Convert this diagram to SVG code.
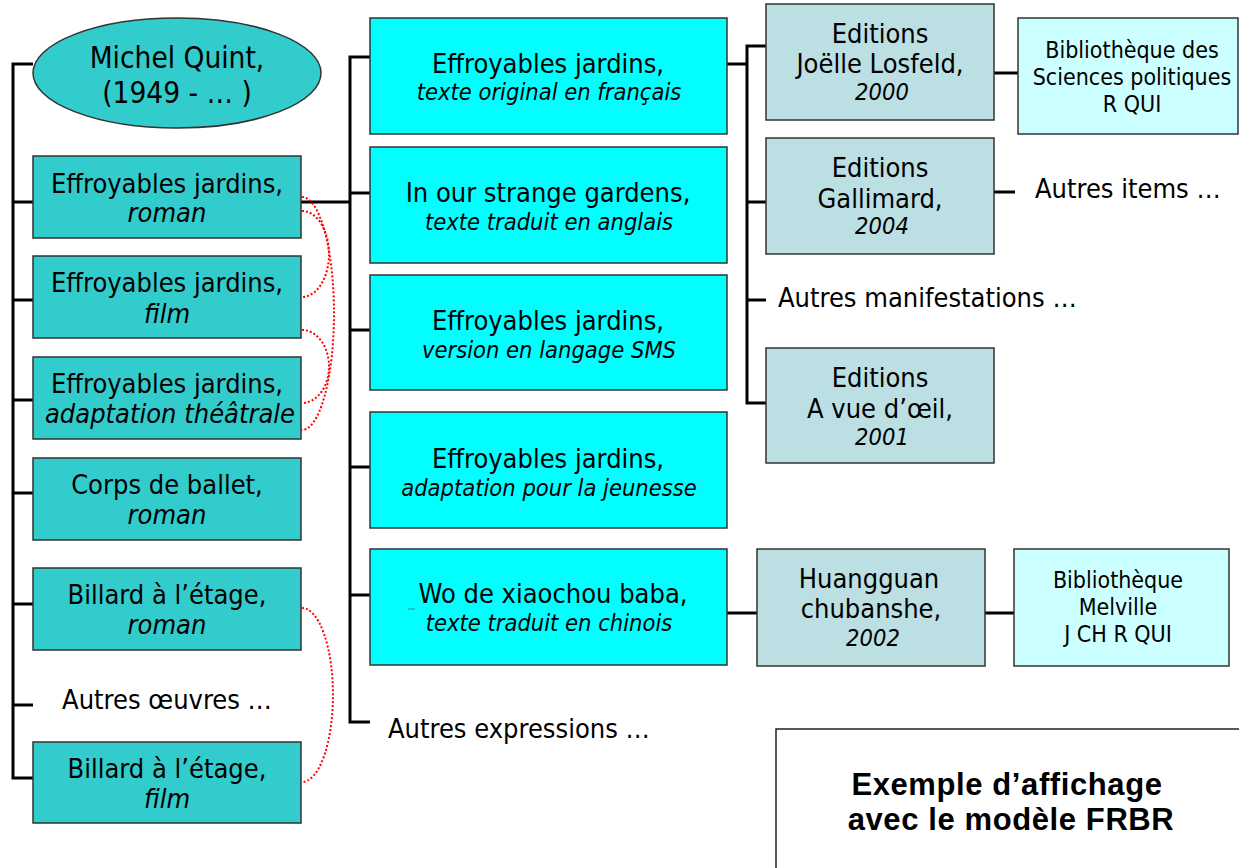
<svg xmlns="http://www.w3.org/2000/svg" width="1239" height="868" viewBox="0 0 1239 868">
<style>
text{font-family:"DejaVu Sans Condensed","DejaVu Sans",sans-serif;font-stretch:condensed;fill:#000;text-anchor:middle}
.t{font-size:27px}
.i{font-style:italic}
.s{font-size:23.5px}
.b{font-size:23px}
.l{text-anchor:start}
.w{fill:#33cccc;stroke:#333;stroke-width:1.5}
.e{fill:#00ffff;stroke:#333;stroke-width:1.5}
.m{fill:#bbdfe2;stroke:#333;stroke-width:1.5}
.it{fill:#ccffff;stroke:#333;stroke-width:1.5}
.c{stroke:#000;stroke-width:3;fill:none}
.r{stroke:#ff0000;stroke-width:2;stroke-dasharray:2 2;fill:none}
.cap{font-family:"Liberation Sans",Arial,sans-serif;font-stretch:normal;font-weight:bold;font-size:31px}
</style>
<g id="connectors">
<path class="c" d="M33 64H13V778H33M13 202H33M13 300H33M13 400H33M13 493H33M13 604H33M13 705H33"/>
<path class="c" d="M301 202H350M370 57H350V722H370M350 193H370M350 330H370M350 467H370M350 595H370"/>
<path class="c" d="M727 64H747M766 46H747V403H766M747 202H766M747 300H766"/>
<path class="c" d="M994 73H1018M994 192H1015M727 613H757M985 613H1014"/>
<path class="r" d="M302 197A32 116.5 0 0 1 302 430"/>
<path class="r" d="M302 211A27 43 0 0 1 302 297"/>
<path class="r" d="M302 330A27 36.5 0 0 1 302 403"/>
<path class="r" d="M302 608A31 87 0 0 1 302 782"/>
</g>
<g id="n-author">
<ellipse cx="177" cy="73" rx="144" ry="55" class="w"/>
<text x="177" y="68" style="font-size:29.5px">Michel Quint,</text>
<text x="177" y="103" style="font-size:29.5px">(1949 - … )</text>
</g>
<g id="n-w1"><rect x="33" y="156" width="268" height="82" class="w"/><text class="t" x="167" y="193">Effroyables jardins,</text><text class="t i" x="167" y="222">roman</text></g>
<g id="n-w2"><rect x="33" y="256" width="268" height="82" class="w"/><text class="t" x="167" y="292">Effroyables jardins,</text><text class="t i" x="167" y="323">film</text></g>
<g id="n-w3"><rect x="33" y="357" width="268" height="82" class="w"/><text class="t" x="167" y="393">Effroyables jardins,</text><text class="t i" x="170" y="423">adaptation théâtrale</text></g>
<g id="n-w4"><rect x="33" y="458" width="268" height="82" class="w"/><text class="t" x="167" y="494">Corps de ballet,</text><text class="t i" x="167" y="524">roman</text></g>
<g id="n-w5"><rect x="33" y="568" width="268" height="82" class="w"/><text class="t" x="167" y="604">Billard à l’étage,</text><text class="t i" x="167" y="634">roman</text></g>
<g id="n-w6"><text class="t" x="167" y="709">Autres œuvres …</text></g>
<g id="n-w7"><rect x="33" y="742" width="268" height="81" class="w"/><text class="t" x="167" y="778">Billard à l’étage,</text><text class="t i" x="167" y="808">film</text></g>
<g id="n-e1"><rect x="370" y="18" width="357" height="116" class="e"/><text class="t" x="548" y="73">Effroyables jardins,</text><text class="s i" x="549" y="100">texte original en français</text></g>
<g id="n-e2"><rect x="370" y="147" width="357" height="116" class="e"/><text class="t" x="548" y="202">In our strange gardens,</text><text class="s i" x="549" y="230">texte traduit en anglais</text></g>
<g id="n-e3"><rect x="370" y="275" width="357" height="115" class="e"/><text class="t" x="548" y="330">Effroyables jardins,</text><text class="s i" x="549" y="358">version en langage SMS</text></g>
<g id="n-e4"><rect x="370" y="412" width="357" height="116" class="e"/><text class="t" x="548" y="468">Effroyables jardins,</text><text class="s i" x="549" y="496">adaptation pour la jeunesse</text></g>
<g id="n-e5"><rect x="370" y="549" width="357" height="116" class="e"/><line x1="408" y1="609" x2="415" y2="609" stroke="#3a9a9a" stroke-width="1.2"/><text class="t" x="553" y="603">Wo de xiaochou baba,</text><text class="s i" x="549" y="631">texte traduit en chinois</text></g>
<g id="n-e6"><text class="t l" x="388" y="738">Autres expressions …</text></g>
<g id="n-m1"><rect x="766" y="4" width="228" height="116" class="m"/><text class="t" x="880" y="43">Editions</text><text class="t" x="880" y="73">Joëlle Losfeld,</text><text class="s i" x="882" y="100">2000</text></g>
<g id="n-m2"><rect x="766" y="138" width="228" height="116" class="m"/><text class="t" x="880" y="177">Editions</text><text class="t" x="880" y="208">Gallimard,</text><text class="s i" x="882" y="234">2004</text></g>
<g id="n-m3"><text class="t l" x="778" y="307">Autres manifestations …</text></g>
<g id="n-m4"><rect x="766" y="348" width="228" height="115" class="m"/><text class="t" x="880" y="387">Editions</text><text class="t" x="880" y="418">A vue d’œil,</text><text class="s i" x="882" y="445">2001</text></g>
<g id="n-m5"><rect x="757" y="549" width="228" height="117" class="m"/><text class="t" x="869" y="588">Huangguan</text><text class="t" x="871" y="618">chubanshe,</text><text class="s i" x="873" y="646">2002</text></g>
<g id="n-i1"><rect x="1018" y="18" width="220" height="116" class="it"/><text class="b" x="1132" y="58">Bibliothèque des</text><text class="b" x="1132" y="85">Sciences politiques</text><text class="b" x="1132" y="112">R QUI</text></g>
<g id="n-i2"><text class="t l" x="1035" y="198">Autres items …</text></g>
<g id="n-i3"><rect x="1014" y="549" width="215" height="117" class="it"/><text class="b" x="1118" y="588">Bibliothèque</text><text class="b" x="1118" y="615">Melville</text><text class="b" x="1118" y="642">J CH R QUI</text></g>
<g id="caption"><rect x="776" y="729" width="475" height="150" fill="#fff" stroke="#222" stroke-width="1.5"/><text class="cap" x="1007" y="795" style="letter-spacing:0.6px">Exemple d’affichage</text><text class="cap" x="1011" y="830" style="letter-spacing:0.6px">avec le modèle FRBR</text></g>
</svg>
